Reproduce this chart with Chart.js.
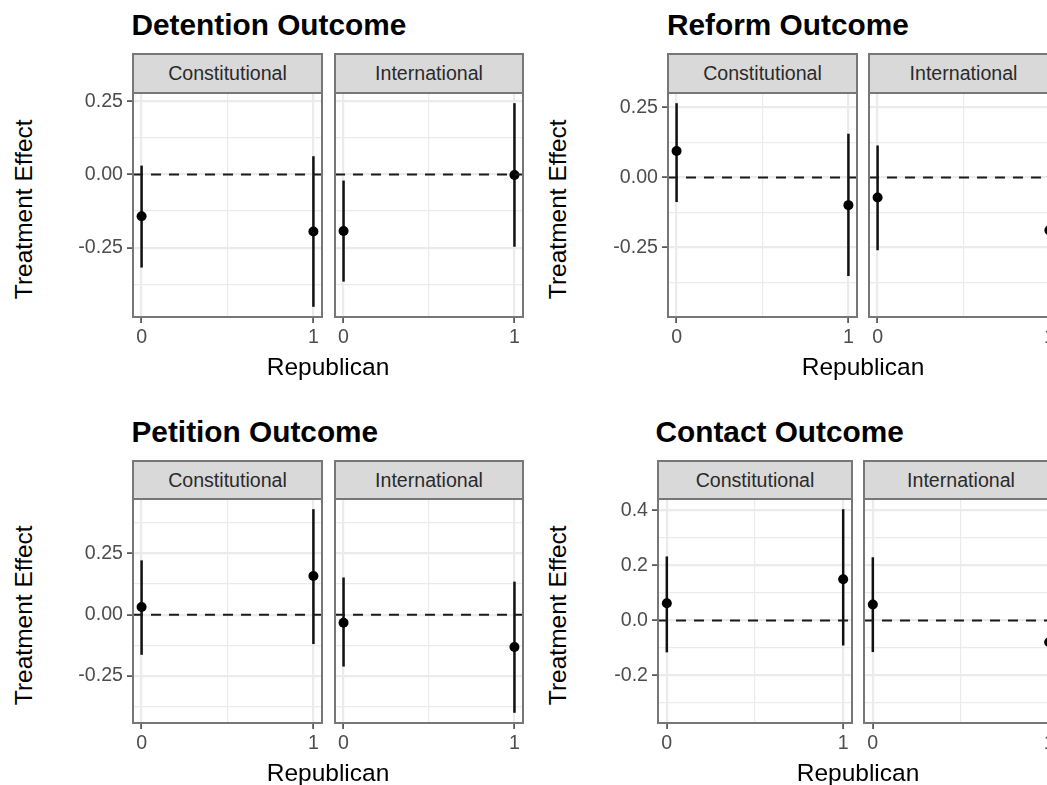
<!DOCTYPE html>
<html>
<head>
<meta charset="utf-8">
<title>Treatment effect by Republican</title>
<script src="https://cdn.jsdelivr.net/npm/chart.js@4.4.1/dist/chart.umd.min.js"></script>
<style>
  html, body { margin: 0; padding: 0; overflow: hidden; background: #fff; }
  #fig { position: relative; width: 1047px; height: 785px; overflow: hidden;
         font-family: 'Liberation Sans', Arial, sans-serif; }
  #fig canvas { position: absolute; }
  .title { position: absolute; font-weight: bold; font-size: 29.8px; line-height: 29.8px;
           color: #000; white-space: nowrap; }
  .strip { position: absolute; box-sizing: border-box; background: #d9d9d9;
           border: 2px solid #777; color: #2a2a2a; font-size: 19.6px;
           display: flex; align-items: center; justify-content: center;
           white-space: nowrap; overflow: hidden; }
  .xtitle, .ytitle { position: absolute; font-size: 24.5px; line-height: 24.5px;
           width: 300px; height: 24.5px; text-align: center; color: #000; white-space: nowrap; }
  .ytitle { transform: rotate(-90deg); }
</style>
</head>
<body>
<div id="fig"></div>
<script>
// ---------- data ----------
const republican = [0, 1];
const xTickLabels = ['0', '1'];
const facets = ['Constitutional', 'International'];

// order of values: Constitutional (Rep 0, Rep 1), International (Rep 0, Rep 1)
const detentionEst = [-0.143, -0.195, -0.193, -0.002];
const detentionLo  = [-0.318, -0.452, -0.366, -0.247];
const detentionHi  = [ 0.030,  0.062, -0.021,  0.243];
const detentionTicks = [-0.25, 0, 0.25];
const detentionTickLabels = ['-0.25', '0.00', '0.25'];

const reformEst = [ 0.094, -0.099, -0.072, -0.189];
const reformLo  = [-0.088, -0.352, -0.260, -0.462];
const reformHi  = [ 0.265,  0.156,  0.114,  0.084];
const reformTicks = [-0.25, 0, 0.25];
const reformTickLabels = ['-0.25', '0.00', '0.25'];

const petitionEst = [ 0.031,  0.158, -0.033, -0.132];
const petitionLo  = [-0.164, -0.120, -0.212, -0.401];
const petitionHi  = [ 0.222,  0.431,  0.152,  0.135];
const petitionTicks = [-0.25, 0, 0.25];
const petitionTickLabels = ['-0.25', '0.00', '0.25'];

const contactEst = [ 0.063,  0.150,  0.058, -0.079];
const contactLo  = [-0.116, -0.091, -0.115, -0.336];
const contactHi  = [ 0.233,  0.405,  0.230,  0.178];
const contactTicks = [-0.2, 0, 0.2, 0.4];
const contactTickLabels = ['-0.2', '0.0', '0.2', '0.4'];

// ---------- layout ----------
const rows = [
  { titleBase: 35,  stripTop: 54,  panelTop: 93,  panelH: 224, xTitleBase: 376, yTitleY: 209 },
  { titleBase: 442, stripTop: 461, panelTop: 499, panelH: 224, xTitleBase: 782, yTitleY: 615 }
];
const blocks = [
  { title: 'Detention Outcome', est: detentionEst, lo: detentionLo, hi: detentionHi,
    ticks: detentionTicks, labels: detentionTickLabels, row: 0,
    titleX: 131.5, yTitleX: 24, panelX: [133, 335], panelW: [189, 188] },
  { title: 'Reform Outcome', est: reformEst, lo: reformLo, hi: reformHi,
    ticks: reformTicks, labels: reformTickLabels, row: 0,
    titleX: 667, yTitleX: 557.5, panelX: [668, 869], panelW: [189, 189] },
  { title: 'Petition Outcome', est: petitionEst, lo: petitionLo, hi: petitionHi,
    ticks: petitionTicks, labels: petitionTickLabels, row: 1,
    titleX: 131.5, yTitleX: 24, panelX: [133, 335], panelW: [189, 188] },
  { title: 'Contact Outcome', est: contactEst, lo: contactLo, hi: contactHi,
    ticks: contactTicks, labels: contactTickLabels, row: 1,
    titleX: 655.5, yTitleX: 557.5, panelX: [658, 864], panelW: [194, 194] }
];

const FONT = "'Liberation Sans', Arial, sans-serif";
const GRID = '#ebebeb';
const BORDER = '#777';
const TICK = '#5a5a5a';
const Y_PAD = 60;   // room for y tick labels
const X_PAD = 40;   // room for x tick labels
const TOP_PAD = 18;

// ggplot style 5% expansion
function expand(lo, hi) {
  const d = (hi - lo) * 0.05;
  return [lo - d, hi + d];
}
const [xMin, xMax] = expand(Math.min(...republican), Math.max(...republican));

// major breaks plus the minor ones half way between
function gridValues(major, min, max) {
  const step = major[1] - major[0];
  const out = [];
  for (let v = major[0] - step; v <= major[major.length - 1] + step + 1e-9; v += step / 2) {
    if (v >= min - 1e-9 && v <= max + 1e-9) out.push(+v.toFixed(6));
  }
  return out;
}
const isIn = (arr, v) => arr.some(m => Math.abs(m - v) < 1e-9);

const panelBorder = {
  id: 'panelBorder',
  afterDraw(chart) {
    const { ctx, chartArea: a } = chart;
    ctx.save();
    ctx.strokeStyle = BORDER;
    ctx.lineWidth = 2;
    ctx.strokeRect(a.left, a.top, a.width, a.height);
    ctx.restore();
  }
};

const fig = document.getElementById('fig');

function addDiv(cls, text, css) {
  const d = document.createElement('div');
  d.className = cls;
  d.textContent = text;
  Object.assign(d.style, css);
  fig.appendChild(d);
  return d;
}

blocks.forEach(b => {
  const r = rows[b.row];
  const [yMin, yMax] = expand(Math.min(...b.lo), Math.max(...b.hi));
  const yGrid = gridValues(b.ticks, yMin, yMax);
  const xGrid = gridValues(republican, xMin, xMax);

  addDiv('title', b.title, { left: b.titleX + 'px', top: (r.titleBase - 25.2) + 'px' });

  facets.forEach((f, fi) => {
    const px = b.panelX[fi], pw = b.panelW[fi];
    const showY = fi === 0;
    const padL = showY ? Y_PAD : 0;

    addDiv('strip', f, {
      left: (px - 1) + 'px', width: (pw + 2) + 'px',
      top: (r.stripTop - 1) + 'px', height: (r.panelTop - r.stripTop + 2) + 'px'
    });

    const cv = document.createElement('canvas');
    const w = pw + padL + 4, h = r.panelH + TOP_PAD + X_PAD;
    cv.width = w; cv.height = h;
    cv.style.left = (px - 2 - padL) + 'px';
    cv.style.top = (r.panelTop - TOP_PAD) + 'px';
    cv.style.width = w + 'px'; cv.style.height = h + 'px';
    fig.appendChild(cv);

    const i0 = fi * 2;
    const datasets = [];
    // reference line at zero
    datasets.push({
      data: [{ x: xMin, y: 0 }, { x: xMax, y: 0 }],
      showLine: true, borderColor: '#1a1a1a', borderWidth: 2, borderDash: [10, 8],
      pointRadius: 0, order: 0
    });
    // point estimates
    datasets.push({
      data: republican.map((x, k) => ({ x, y: b.est[i0 + k] })),
      pointRadius: 5, pointBackgroundColor: '#000', pointBorderWidth: 0, order: 1
    });
    // intervals
    republican.forEach((x, k) => {
      datasets.push({
        data: [{ x, y: b.lo[i0 + k] }, { x, y: b.hi[i0 + k] }],
        showLine: true, borderColor: '#111', borderWidth: 2.5, pointRadius: 0, order: 2
      });
    });

    new Chart(cv, {
      type: 'scatter',
      data: { datasets },
      plugins: [panelBorder],
      options: {
        responsive: false, animation: false, events: [],
        devicePixelRatio: 1,
        layout: { autoPadding: false, padding: { top: TOP_PAD, left: 2, right: 2, bottom: 0 } },
        plugins: { legend: { display: false }, tooltip: { enabled: false } },
        scales: {
          x: {
            type: 'linear', min: xMin, max: xMax,
            afterBuildTicks: s => { s.ticks = xGrid.map(v => ({ value: v })); },
            afterFit: s => { s.height = X_PAD; s.paddingLeft = 0; s.paddingRight = 0; },
            border: { display: false },
            grid: {
              color: GRID,
              lineWidth: c => isIn(republican, c.tick.value) ? 2.2 : 1.2,
              tickColor: c => isIn(republican, c.tick.value) ? TICK : 'rgba(0,0,0,0)',
              tickWidth: 1.8, tickLength: 6
            },
            ticks: {
              autoSkip: false, maxRotation: 0, padding: 3, color: '#4d4d4d',
              font: { family: FONT, size: 19.6 },
              callback: v => {
                const k = republican.findIndex(m => Math.abs(m - v) < 1e-9);
                return k < 0 ? '' : xTickLabels[k];
              }
            }
          },
          y: {
            type: 'linear', min: yMin, max: yMax,
            afterBuildTicks: s => { s.ticks = yGrid.map(v => ({ value: v })); },
            afterFit: s => { s.width = padL; s.paddingTop = 0; s.paddingBottom = 0; },
            border: { display: false },
            grid: {
              color: GRID,
              lineWidth: c => isIn(b.ticks, c.tick.value) ? 2.2 : 1.2,
              tickColor: c => isIn(b.ticks, c.tick.value) ? TICK : 'rgba(0,0,0,0)',
              tickWidth: 1.8, tickLength: 6, drawTicks: showY
            },
            ticks: {
              display: showY, autoSkip: false, padding: 4, color: '#4d4d4d',
              font: { family: FONT, size: 19.6 },
              callback: v => {
                const k = b.ticks.findIndex(m => Math.abs(m - v) < 1e-9);
                return k < 0 ? '' : b.labels[k];
              }
            }
          }
        }
      }
    });
  });

  // axis titles
  const left = b.panelX[0], right = b.panelX[1] + b.panelW[1];
  addDiv('xtitle', 'Republican', {
    left: ((left + right) / 2 - 150) + 'px', top: (r.xTitleBase - 20.7) + 'px'
  });
  addDiv('ytitle', 'Treatment Effect', {
    left: (b.yTitleX - 150) + 'px', top: (r.yTitleY - 12.25) + 'px'
  });
});
</script>
</body>
</html>
